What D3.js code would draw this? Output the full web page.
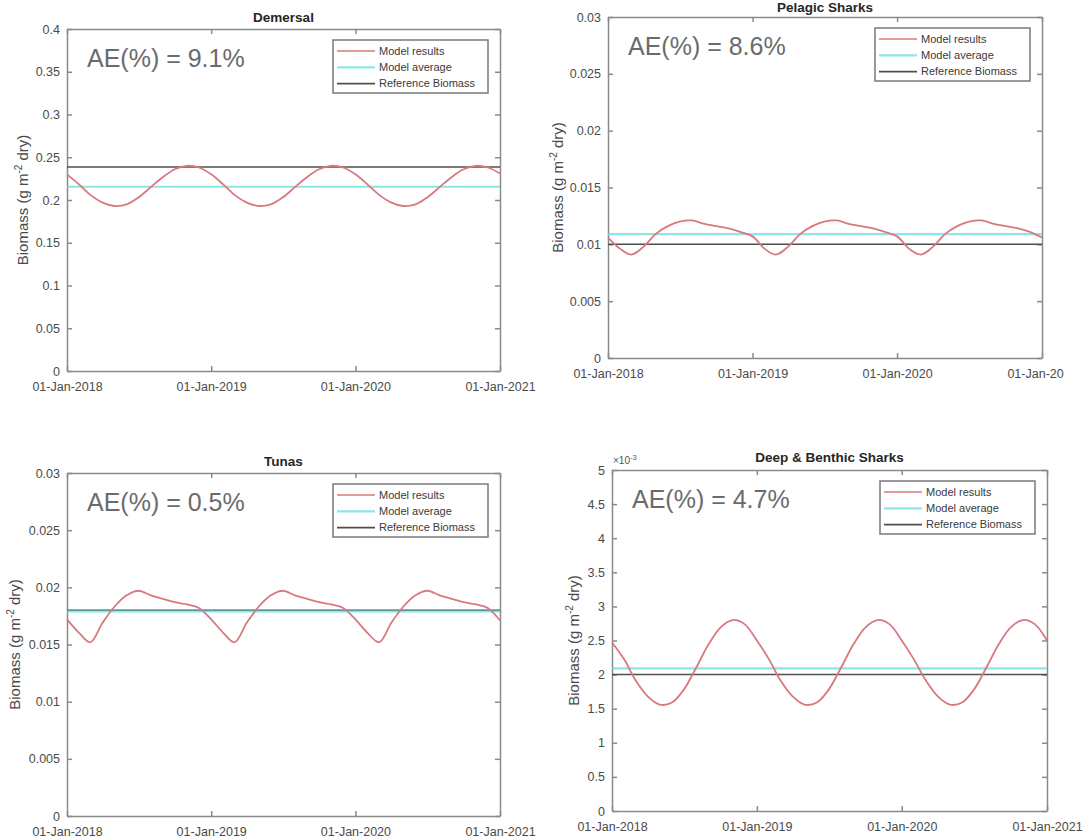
<!DOCTYPE html>
<html>
<head>
<meta charset="utf-8">
<script src="https://cdn.jsdelivr.net/npm/d3@7"></script>
<style>
  body { margin: 0; background: #fff; }
  svg { display: block; font-family: "Liberation Sans", Arial, sans-serif; }
  .frame path, .frame line { stroke: #8a8a8a; stroke-width: 1.5; }
  .frame text { fill: #4a4a4a; font-size: 12.5px; }
</style>
</head>
<body>
<div id="chart"></div>
<script>
// monthly samples, 01-Jan-2018 .. 01-Jan-2021
var dates = d3.timeMonth.range(new Date(2018, 0, 1), new Date(2021, 0, 2));
var xTicks = [new Date(2018, 0, 1), new Date(2019, 0, 1), new Date(2020, 0, 1), new Date(2021, 0, 1)];

// model results
var demersal = [0.230, 0.218, 0.206, 0.197, 0.193, 0.195, 0.203, 0.215, 0.227, 0.236, 0.240, 0.238,
                0.230, 0.218, 0.206, 0.197, 0.193, 0.195, 0.203, 0.215, 0.227, 0.236, 0.240, 0.238,
                0.230, 0.218, 0.206, 0.197, 0.193, 0.195, 0.203, 0.215, 0.227, 0.236, 0.240, 0.238,
                0.231];
var pelagic = [0.0106, 0.0096, 0.0091, 0.0098, 0.0109, 0.0116, 0.0120, 0.0121, 0.0118, 0.0116, 0.0114, 0.0111,
               0.0107, 0.0096, 0.0091, 0.0098, 0.0109, 0.0116, 0.0120, 0.0121, 0.0118, 0.0116, 0.0114, 0.0111,
               0.0107, 0.0096, 0.0091, 0.0098, 0.0109, 0.0116, 0.0120, 0.0121, 0.0118, 0.0116, 0.0114, 0.0111,
               0.0106];
var tunas = [0.0172, 0.0160, 0.0152, 0.0169, 0.0183, 0.0193, 0.0197, 0.0193, 0.0190, 0.0187, 0.0185, 0.0182,
             0.0172, 0.0160, 0.0152, 0.0169, 0.0183, 0.0193, 0.0197, 0.0193, 0.0190, 0.0187, 0.0185, 0.0182,
             0.0172, 0.0160, 0.0152, 0.0169, 0.0183, 0.0193, 0.0197, 0.0193, 0.0190, 0.0187, 0.0185, 0.0182,
             0.0171];
// x 10^-3
var deep = [2.47, 2.22, 1.92, 1.68, 1.56, 1.59, 1.78, 2.10, 2.44, 2.69, 2.80, 2.74,
            2.50, 2.22, 1.92, 1.68, 1.56, 1.59, 1.78, 2.10, 2.44, 2.69, 2.80, 2.74,
            2.50, 2.22, 1.92, 1.68, 1.56, 1.59, 1.78, 2.10, 2.44, 2.69, 2.80, 2.74,
            2.50];

var averages = [0.2155, 0.0109, 0.0179, 2.09];
var references = [0.2385, 0.0100, 0.0180, 2.00];
var aeLabels = ["AE(%) = 9.1%", "AE(%) = 8.6%", "AE(%) = 0.5%", "AE(%) = 4.7%"];
var titles = ["Demersal", "Pelagic Sharks", "Tunas", "Deep & Benthic Sharks"];

var yTicksDemersal = [0, 0.05, 0.1, 0.15, 0.2, 0.25, 0.3, 0.35, 0.4];
var yTicksSmall = [0, 0.005, 0.01, 0.015, 0.02, 0.025, 0.03];
var yTicksDeep = [0, 0.5, 1, 1.5, 2, 2.5, 3, 3.5, 4, 4.5, 5];

var legendNames = ["Model results", "Model average", "Reference Biomass"];
var colors = { model: "#d9787f", avg: "#5edcdc", ref: "#4f4f4f" };

var panels = [
  { values: demersal, yTicks: yTicksDemersal, yMax: 0.4,  box: [67, 29, 500, 371],   ylabOff: 44, titleDy: -7 },
  { values: pelagic,  yTicks: yTicksSmall,    yMax: 0.03, box: [608, 17, 1042, 358], ylabOff: 50, titleDy: -5 },
  { values: tunas,    yTicks: yTicksSmall,    yMax: 0.03, box: [67, 473, 500, 816],  ylabOff: 52, titleDy: -7 },
  { values: deep,     yTicks: yTicksDeep,     yMax: 5,    box: [612, 470, 1047, 811], ylabOff: 38, titleDy: -8, exp: true }
];

var svg = d3.select("#chart").append("svg")
    .attr("width", 1084)
    .attr("height", 838);

var fmtDate = d3.timeFormat("%d-%b-%Y");
var fmtY = d3.format("~g");

panels.forEach(function(p, i) {
    var left = p.box[0], top = p.box[1], w = p.box[2] - p.box[0], h = p.box[3] - p.box[1];

    var x = d3.scaleTime().domain([xTicks[0], xTicks[3]]).range([0, w]);
    var y = d3.scaleLinear().domain([0, p.yMax]).range([h, 0]);

    var g = svg.append("g").attr("transform", "translate(" + left + "," + top + ")");

    // box with inward ticks
    g.append("g").attr("class", "frame")
        .call(d3.axisLeft(y).tickValues(p.yTicks).tickFormat(fmtY).tickSizeInner(-5).tickSizeOuter(0).tickPadding(7));
    g.append("g").attr("class", "frame")
        .attr("transform", "translate(" + w + ",0)")
        .call(d3.axisRight(y).tickValues(p.yTicks).tickFormat("").tickSizeInner(-5).tickSizeOuter(0));
    g.append("g").attr("class", "frame")
        .attr("transform", "translate(0," + h + ")")
        .call(d3.axisBottom(x).tickValues(xTicks).tickFormat(fmtDate).tickSizeInner(-5).tickSizeOuter(0).tickPadding(11));
    g.append("g").attr("class", "frame")
        .call(d3.axisTop(x).tickValues(xTicks).tickFormat("").tickSizeInner(-5).tickSizeOuter(0));
    g.selectAll(".frame .domain").attr("fill", "none");

    // lines
    var line = d3.line()
        .x(function(d, k) { return x(dates[k]); })
        .y(function(d) { return y(d); })
        .curve(d3.curveCatmullRom.alpha(0.5));

    g.append("line")
        .attr("x1", 0).attr("x2", w)
        .attr("y1", y(references[i])).attr("y2", y(references[i]))
        .attr("stroke", colors.ref).attr("stroke-width", 1.5);
    g.append("line")
        .attr("x1", 0).attr("x2", w)
        .attr("y1", y(averages[i])).attr("y2", y(averages[i]))
        .attr("stroke", colors.avg).attr("stroke-opacity", 0.72).attr("stroke-width", 2.2);
    g.append("path")
        .datum(p.values)
        .attr("fill", "none")
        .attr("stroke", colors.model)
        .attr("stroke-width", 1.8)
        .attr("d", line);

    // title
    g.append("text")
        .attr("x", w / 2).attr("y", p.titleDy)
        .attr("text-anchor", "middle")
        .attr("font-size", "13.5px").attr("font-weight", "bold").attr("fill", "#262626")
        .text(titles[i]);

    // y label
    var yl = g.append("text")
        .attr("transform", "translate(" + (-p.ylabOff) + "," + (h / 2) + ") rotate(-90)")
        .attr("text-anchor", "middle")
        .attr("dy", "0.35em")
        .attr("font-size", "15px").attr("fill", "#4a4a4a");
    yl.append("tspan").text("Biomass (g m");
    yl.append("tspan").attr("font-size", "10px").attr("dy", -6).text("-2");
    yl.append("tspan").attr("dy", 6).text(" dry)");

    if (p.exp) {
        var ex = g.append("text").attr("x", 1).attr("y", -6)
            .attr("font-size", "10px").attr("fill", "#555");
        ex.append("tspan").text("\u00d710");
        ex.append("tspan").attr("font-size", "7.5px").attr("dy", -4).text("-3");
    }

    // AE annotation
    g.append("text")
        .attr("x", 20).attr("y", 38)
        .attr("font-size", "25px").attr("fill", "#6b6b6b")
        .text(aeLabels[i]);

    // legend
    var lw = 155, lh = 53;
    var lg = g.append("g").attr("transform", "translate(" + (w - 12 - lw) + ",11)");
    lg.append("rect").attr("width", lw).attr("height", lh)
        .attr("fill", "#fff").attr("stroke", "#7a7a7a").attr("stroke-width", 1.5);
    var lc = [colors.model, colors.avg, colors.ref];
    legendNames.forEach(function(name, k) {
        var yy = 11 + k * 16.3;
        lg.append("line").attr("x1", 4).attr("x2", 42).attr("y1", yy).attr("y2", yy)
            .attr("stroke", lc[k]).attr("stroke-opacity", k === 1 ? 0.72 : 1)
            .attr("stroke-width", k === 1 ? 2.2 : 1.7);
        lg.append("text").attr("x", 46).attr("y", yy).attr("dy", "0.35em")
            .attr("font-size", "11px").attr("fill", "#3a3a3a")
            .text(name);
    });
});

// the top-right picture is cropped on its right edge
svg.append("rect").attr("x", 1064).attr("y", 362).attr("width", 20).attr("height", 30).attr("fill", "#fff");
</script>
</body>
</html>
